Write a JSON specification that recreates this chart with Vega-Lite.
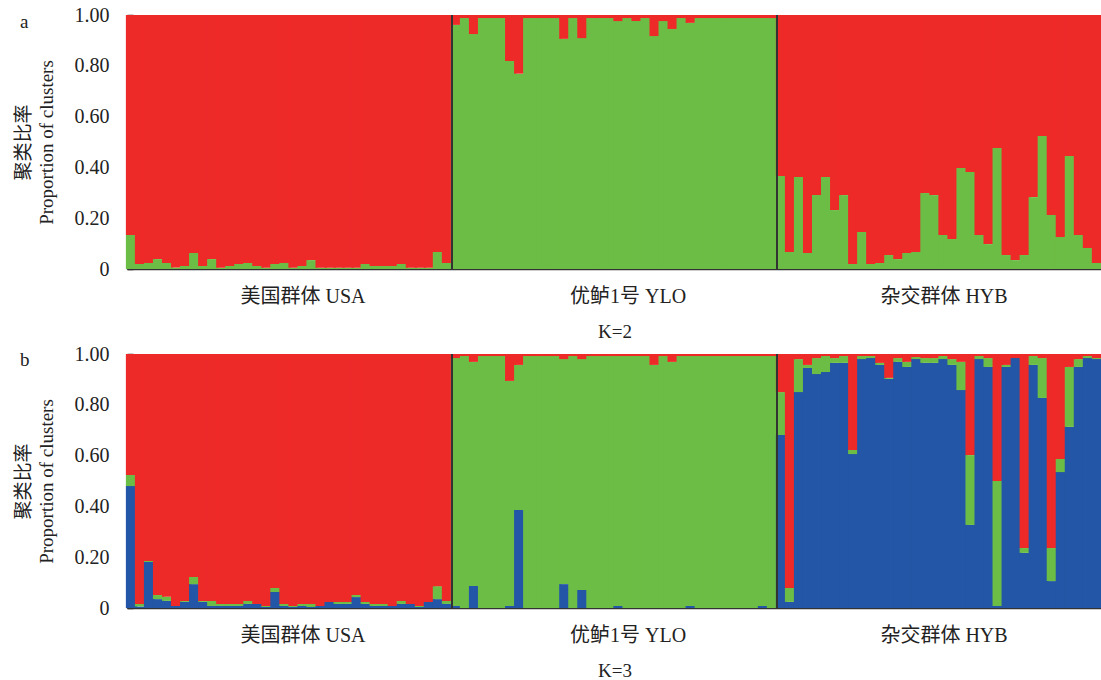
{
"$schema": "https://vega.github.io/schema/vega-lite/v6.json",
"background": "white",
"padding": {"left": 14, "top": 5, "right": 0, "bottom": 0},
"spacing": 3,
"config": {
  "view": {"stroke": null},
  "font": "Liberation Serif, Noto Sans CJK SC",
  "axis": {"grid": false, "zindex": 1, "domainColor": "#333333", "domainWidth": 1.5, "tickColor": "#333333", "tickWidth": 1.5, "labelColor": "#222222", "titleColor": "#222222", "labelFont": "Liberation Serif, Noto Sans CJK SC", "titleFont": "Liberation Serif, Noto Sans CJK SC", "titleFontWeight": "normal", "labelFontWeight": "normal"},
  "title": {"font": "Liberation Serif", "fontWeight": "normal", "color": "#222222"}
},
"datasets": {
"k2": [
{"id":"001","green":0.134,"red":0.866},{"id":"002","green":0.02,"red":0.98},{"id":"003","green":0.024,"red":0.976},{"id":"004","green":0.039,"red":0.961},{"id":"005","green":0.024,"red":0.976},{"id":"006","green":0.006,"red":0.994},{"id":"007","green":0.012,"red":0.988},{"id":"008","green":0.063,"red":0.937},{"id":"009","green":0.012,"red":0.988},{"id":"010","green":0.039,"red":0.961},
{"id":"011","green":0.005,"red":0.995},{"id":"012","green":0.012,"red":0.988},{"id":"013","green":0.02,"red":0.98},{"id":"014","green":0.024,"red":0.976},{"id":"015","green":0.012,"red":0.988},{"id":"016","green":0.005,"red":0.995},{"id":"017","green":0.02,"red":0.98},{"id":"018","green":0.024,"red":0.976},{"id":"019","green":0.005,"red":0.995},{"id":"020","green":0.012,"red":0.988},
{"id":"021","green":0.035,"red":0.965},{"id":"022","green":0.005,"red":0.995},{"id":"023","green":0.005,"red":0.995},{"id":"024","green":0.005,"red":0.995},{"id":"025","green":0.005,"red":0.995},{"id":"026","green":0.005,"red":0.995},{"id":"027","green":0.02,"red":0.98},{"id":"028","green":0.012,"red":0.988},{"id":"029","green":0.012,"red":0.988},{"id":"030","green":0.012,"red":0.988},
{"id":"031","green":0.02,"red":0.98},{"id":"032","green":0.005,"red":0.995},{"id":"033","green":0.005,"red":0.995},{"id":"034","green":0.005,"red":0.995},{"id":"035","green":0.067,"red":0.933},{"id":"036","green":0.024,"red":0.976},
{"id":"037","green":0.961,"red":0.039},{"id":"038","green":0.988,"red":0.012},{"id":"039","green":0.925,"red":0.075},{"id":"040","green":0.988,"red":0.012},{"id":"041","green":0.988,"red":0.012},{"id":"042","green":0.988,"red":0.012},{"id":"043","green":0.819,"red":0.181},{"id":"044","green":0.769,"red":0.231},{"id":"045","green":0.988,"red":0.012},{"id":"046","green":0.988,"red":0.012},
{"id":"047","green":0.988,"red":0.012},{"id":"048","green":0.988,"red":0.012},{"id":"049","green":0.906,"red":0.094},{"id":"050","green":0.988,"red":0.012},{"id":"051","green":0.909,"red":0.091},{"id":"052","green":0.988,"red":0.012},{"id":"053","green":0.988,"red":0.012},{"id":"054","green":0.988,"red":0.012},{"id":"055","green":0.976,"red":0.024},{"id":"056","green":0.988,"red":0.012},
{"id":"057","green":0.976,"red":0.024},{"id":"058","green":0.988,"red":0.012},{"id":"059","green":0.917,"red":0.083},{"id":"060","green":0.976,"red":0.024},{"id":"061","green":0.945,"red":0.055},{"id":"062","green":0.988,"red":0.012},{"id":"063","green":0.969,"red":0.031},{"id":"064","green":0.988,"red":0.012},{"id":"065","green":0.988,"red":0.012},{"id":"066","green":0.988,"red":0.012},
{"id":"067","green":0.988,"red":0.012},{"id":"068","green":0.988,"red":0.012},{"id":"069","green":0.988,"red":0.012},{"id":"070","green":0.988,"red":0.012},{"id":"071","green":0.988,"red":0.012},{"id":"072","green":0.988,"red":0.012},
{"id":"073","green":0.366,"red":0.634},{"id":"074","green":0.067,"red":0.933},{"id":"075","green":0.362,"red":0.638},{"id":"076","green":0.063,"red":0.937},{"id":"077","green":0.291,"red":0.709},{"id":"078","green":0.362,"red":0.638},{"id":"079","green":0.232,"red":0.768},{"id":"080","green":0.291,"red":0.709},{"id":"081","green":0.02,"red":0.98},{"id":"082","green":0.146,"red":0.854},
{"id":"083","green":0.02,"red":0.98},{"id":"084","green":0.024,"red":0.976},{"id":"085","green":0.055,"red":0.945},{"id":"086","green":0.039,"red":0.961},{"id":"087","green":0.063,"red":0.937},{"id":"088","green":0.067,"red":0.933},{"id":"089","green":0.299,"red":0.701},{"id":"090","green":0.291,"red":0.709},{"id":"091","green":0.134,"red":0.866},{"id":"092","green":0.118,"red":0.882},
{"id":"093","green":0.398,"red":0.602},{"id":"094","green":0.382,"red":0.618},{"id":"095","green":0.134,"red":0.866},{"id":"096","green":0.098,"red":0.902},{"id":"097","green":0.476,"red":0.524},{"id":"098","green":0.055,"red":0.945},{"id":"099","green":0.035,"red":0.965},{"id":"100","green":0.055,"red":0.945},{"id":"101","green":0.283,"red":0.717},{"id":"102","green":0.524,"red":0.476},
{"id":"103","green":0.213,"red":0.787},{"id":"104","green":0.126,"red":0.874},{"id":"105","green":0.445,"red":0.555},{"id":"106","green":0.134,"red":0.866},{"id":"107","green":0.083,"red":0.917},{"id":"108","green":0.024,"red":0.976}
],
"k3": [
{"id":"001","blue":0.48,"green":0.044,"red":0.476},{"id":"002","blue":0.006,"green":0.01,"red":0.984},{"id":"003","blue":0.181,"green":0.004,"red":0.815},{"id":"004","blue":0.035,"green":0.016,"red":0.949},{"id":"005","blue":0.028,"green":0.016,"red":0.956},{"id":"006","blue":0.008,"green":0,"red":0.992},{"id":"007","blue":0.024,"green":0.004,"red":0.972},{"id":"008","blue":0.094,"green":0.028,"red":0.878},{"id":"009","blue":0.024,"green":0.004,"red":0.972},{"id":"010","blue":0.008,"green":0.02,"red":0.972},
{"id":"011","blue":0.008,"green":0.008,"red":0.984},{"id":"012","blue":0.008,"green":0.008,"red":0.984},{"id":"013","blue":0.008,"green":0.008,"red":0.984},{"id":"014","blue":0.016,"green":0.012,"red":0.972},{"id":"015","blue":0.016,"green":0,"red":0.984},{"id":"016","blue":0.004,"green":0.004,"red":0.992},{"id":"017","blue":0.063,"green":0.016,"red":0.921},{"id":"018","blue":0.008,"green":0.008,"red":0.984},{"id":"019","blue":0.004,"green":0.004,"red":0.992},{"id":"020","blue":0.008,"green":0.008,"red":0.984},
{"id":"021","blue":0.004,"green":0.012,"red":0.984},{"id":"022","blue":0.008,"green":0,"red":0.992},{"id":"023","blue":0.024,"green":0,"red":0.976},{"id":"024","blue":0.016,"green":0.008,"red":0.976},{"id":"025","blue":0.016,"green":0.008,"red":0.976},{"id":"026","blue":0.043,"green":0.008,"red":0.949},{"id":"027","blue":0.016,"green":0.008,"red":0.976},{"id":"028","blue":0.008,"green":0.008,"red":0.984},{"id":"029","blue":0.008,"green":0.008,"red":0.984},{"id":"030","blue":0.008,"green":0,"red":0.992},
{"id":"031","blue":0.016,"green":0.012,"red":0.972},{"id":"032","blue":0.016,"green":0,"red":0.984},{"id":"033","blue":0.004,"green":0.004,"red":0.992},{"id":"034","blue":0.024,"green":0,"red":0.976},{"id":"035","blue":0.035,"green":0.051,"red":0.914},{"id":"036","blue":0.016,"green":0.012,"red":0.972},
{"id":"037","blue":0.008,"green":0.976,"red":0.016},{"id":"038","blue":0,"green":0.992,"red":0.008},{"id":"039","blue":0.087,"green":0.882,"red":0.031},{"id":"040","blue":0,"green":0.992,"red":0.008},{"id":"041","blue":0,"green":0.992,"red":0.008},{"id":"042","blue":0,"green":0.992,"red":0.008},{"id":"043","blue":0.008,"green":0.886,"red":0.106},{"id":"044","blue":0.386,"green":0.571,"red":0.043},{"id":"045","blue":0,"green":0.992,"red":0.008},{"id":"046","blue":0,"green":0.992,"red":0.008},
{"id":"047","blue":0,"green":0.992,"red":0.008},{"id":"048","blue":0,"green":0.992,"red":0.008},{"id":"049","blue":0.094,"green":0.886,"red":0.02},{"id":"050","blue":0,"green":0.992,"red":0.008},{"id":"051","blue":0.071,"green":0.909,"red":0.02},{"id":"052","blue":0,"green":0.992,"red":0.008},{"id":"053","blue":0,"green":0.992,"red":0.008},{"id":"054","blue":0,"green":0.992,"red":0.008},{"id":"055","blue":0.008,"green":0.984,"red":0.008},{"id":"056","blue":0,"green":0.992,"red":0.008},
{"id":"057","blue":0,"green":0.992,"red":0.008},{"id":"058","blue":0,"green":0.992,"red":0.008},{"id":"059","blue":0,"green":0.957,"red":0.043},{"id":"060","blue":0,"green":0.992,"red":0.008},{"id":"061","blue":0,"green":0.969,"red":0.031},{"id":"062","blue":0,"green":0.992,"red":0.008},{"id":"063","blue":0.008,"green":0.984,"red":0.008},{"id":"064","blue":0,"green":0.992,"red":0.008},{"id":"065","blue":0,"green":0.992,"red":0.008},{"id":"066","blue":0,"green":0.992,"red":0.008},
{"id":"067","blue":0,"green":0.992,"red":0.008},{"id":"068","blue":0,"green":0.992,"red":0.008},{"id":"069","blue":0,"green":0.992,"red":0.008},{"id":"070","blue":0,"green":0.992,"red":0.008},{"id":"071","blue":0.008,"green":0.984,"red":0.008},{"id":"072","blue":0,"green":0.992,"red":0.008},
{"id":"073","blue":0.681,"green":0.169,"red":0.15},{"id":"074","blue":0.024,"green":0.055,"red":0.921},{"id":"075","blue":0.85,"green":0.13,"red":0.02},{"id":"076","blue":0.945,"green":0.012,"red":0.043},{"id":"077","blue":0.921,"green":0.063,"red":0.016},{"id":"078","blue":0.929,"green":0.063,"red":0.008},{"id":"079","blue":0.965,"green":0.019,"red":0.016},{"id":"080","blue":0.965,"green":0.027,"red":0.008},{"id":"081","blue":0.606,"green":0.016,"red":0.378},{"id":"082","blue":0.98,"green":0.012,"red":0.008},
{"id":"083","blue":0.984,"green":0.008,"red":0.008},{"id":"084","blue":0.957,"green":0.008,"red":0.035},{"id":"085","blue":0.902,"green":0.004,"red":0.094},{"id":"086","blue":0.969,"green":0.015,"red":0.016},{"id":"087","blue":0.949,"green":0.02,"red":0.031},{"id":"088","blue":0.98,"green":0.008,"red":0.012},{"id":"089","blue":0.965,"green":0.019,"red":0.016},{"id":"090","blue":0.965,"green":0.019,"red":0.016},{"id":"091","blue":0.98,"green":0.012,"red":0.008},{"id":"092","blue":0.957,"green":0.023,"red":0.02},
{"id":"093","blue":0.858,"green":0.111,"red":0.031},{"id":"094","blue":0.327,"green":0.275,"red":0.398},{"id":"095","blue":0.98,"green":0.012,"red":0.008},{"id":"096","blue":0.949,"green":0.035,"red":0.016},{"id":"097","blue":0.008,"green":0.492,"red":0.5},{"id":"098","blue":0.949,"green":0.008,"red":0.043},{"id":"099","blue":0.984,"green":0,"red":0.016},{"id":"100","blue":0.217,"green":0.019,"red":0.764},{"id":"101","blue":0.957,"green":0.035,"red":0.008},{"id":"102","blue":0.827,"green":0.157,"red":0.016},
{"id":"103","blue":0.106,"green":0.13,"red":0.764},{"id":"104","blue":0.535,"green":0.052,"red":0.413},{"id":"105","blue":0.713,"green":0.236,"red":0.051},{"id":"106","blue":0.949,"green":0.031,"red":0.02},{"id":"107","blue":0.984,"green":0.008,"red":0.008},{"id":"108","blue":0.98,"green":0.004,"red":0.016}
]
},
"vconcat": [
{
  "width": 975, "height": 254,
  "title": {"text": "a", "anchor": "start", "frame": "bounds", "orient": "top", "offset": 0, "dy": 27, "dx": 6, "fontSize": 19},
  "data": {"name": "k2"},
  "layer": [
    {
      "transform": [{"fold": ["green", "red"], "as": ["cluster", "value"]}],
      "mark": {"type": "bar", "width": {"band": 1.25}},
      "encoding": {
        "x": {"field": "id", "type": "ordinal", "scale": {"paddingInner": 0, "paddingOuter": 0},
          "axis": {"values": ["020", "056", "091"], "labelExpr": "datum.value == '020' ? '美国群体 USA' : datum.value == '056' ? '优鲈1号 YLO' : '杂交群体 HYB'", "labelAngle": 0, "labelFontSize": 20, "labelPadding": 23, "tickSize": -6, "title": "K=2", "titleFontSize": 19, "titlePadding": 16}},
        "y": {"field": "value", "type": "quantitative", "stack": "zero", "scale": {"domain": [0, 1], "nice": false},
          "axis": {"values": [0, 0.2, 0.4, 0.6, 0.8, 1], "labelExpr": "datum.value == 0 ? '0' : format(datum.value, '.2f')", "labelFontSize": 20, "labelPadding": 24, "tickSize": -6, "title": ["聚类比率", "Proportion of clusters"], "titleFontSize": 19, "titlePadding": 18, "titleLineHeight": 23}},
        "color": {"field": "cluster", "type": "nominal", "scale": {"domain": ["blue", "green", "red"], "range": ["#2356a6", "#6cbd45", "#ee2a29"]}, "legend": null},
        "order": {"field": "cluster", "sort": "ascending"}
      }
    },
    {
      "transform": [{"filter": {"field": "id", "oneOf": ["037", "073"]}}],
      "mark": {"type": "rule", "color": "#333333", "strokeWidth": 2},
      "encoding": {"x": {"field": "id", "type": "ordinal", "bandPosition": 0}}
    }
  ]
},
{
  "width": 975, "height": 254,
  "title": {"text": "b", "anchor": "start", "frame": "bounds", "orient": "top", "offset": 0, "dy": 26, "dx": 6, "fontSize": 19},
  "data": {"name": "k3"},
  "layer": [
    {
      "transform": [{"fold": ["blue", "green", "red"], "as": ["cluster", "value"]}],
      "mark": {"type": "bar", "width": {"band": 1.25}},
      "encoding": {
        "x": {"field": "id", "type": "ordinal", "scale": {"paddingInner": 0, "paddingOuter": 0},
          "axis": {"values": ["020", "056", "091"], "labelExpr": "datum.value == '020' ? '美国群体 USA' : datum.value == '056' ? '优鲈1号 YLO' : '杂交群体 HYB'", "labelAngle": 0, "labelFontSize": 20, "labelPadding": 23, "tickSize": -6, "title": "K=3", "titleFontSize": 19, "titlePadding": 16}},
        "y": {"field": "value", "type": "quantitative", "stack": "zero", "scale": {"domain": [0, 1], "nice": false},
          "axis": {"values": [0, 0.2, 0.4, 0.6, 0.8, 1], "labelExpr": "datum.value == 0 ? '0' : format(datum.value, '.2f')", "labelFontSize": 20, "labelPadding": 24, "tickSize": -6, "title": ["聚类比率", "Proportion of clusters"], "titleFontSize": 19, "titlePadding": 18, "titleLineHeight": 23}},
        "color": {"field": "cluster", "type": "nominal", "scale": {"domain": ["blue", "green", "red"], "range": ["#2356a6", "#6cbd45", "#ee2a29"]}, "legend": null},
        "order": {"field": "cluster", "sort": "ascending"}
      }
    },
    {
      "transform": [{"filter": {"field": "id", "oneOf": ["037", "073"]}}],
      "mark": {"type": "rule", "color": "#333333", "strokeWidth": 2},
      "encoding": {"x": {"field": "id", "type": "ordinal", "bandPosition": 0}}
    }
  ]
}
]
}
